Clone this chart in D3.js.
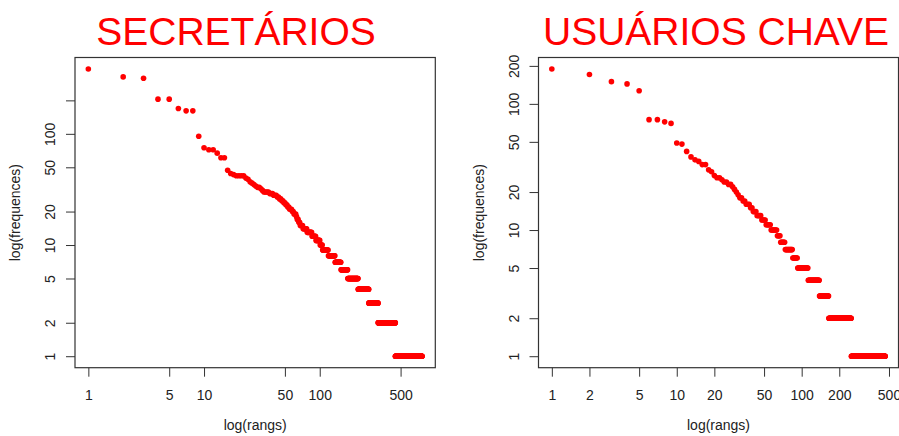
<!DOCTYPE html>
<html>
<head>
<meta charset="utf-8">
<script src="https://cdn.jsdelivr.net/npm/d3@7"></script>
<style>
  body { margin: 0; background: #fff; }
  text { font-family: "Liberation Sans", Arial, sans-serif; }
</style>
</head>
<body>
<div id="chart"></div>
<script>
// word frequency -> how many words have that frequency (ranks follow in order)
var secFreq  = [383, 325, 316, 205, 169, 161, 95, 75, 72, 67, 61, 47, 44, 43, 42, 40, 39, 37, 36, 35, 34, 33, 32, 31,
                30, 29, 28, 27, 26, 25, 24, 23, 22, 21, 20, 19, 18, 17, 16, 15, 14, 13, 12, 11, 10, 9, 8, 7, 6, 5, 4, 3, 2, 1];
var secCount = [1, 1, 1, 2, 1, 2, 1, 1, 2, 1, 2, 1, 1, 1, 4, 1, 1, 1, 1, 1, 1, 2, 1, 1,
                4, 3, 3, 2, 2, 2, 2, 2, 2, 3, 2, 3, 1, 2, 2, 4, 6, 8, 7, 8, 5, 13, 17, 17, 22, 40, 51, 54, 131, 315];

var keyFreq  = [189, 171, 150, 144, 127, 75, 72, 70, 49, 48, 42, 38, 36, 35, 33, 30, 29, 27, 26, 25, 24, 23, 22, 21,
                20, 19, 18, 17, 16, 15, 14, 13, 12, 11, 10, 9, 8, 7, 6, 5, 4, 3, 2, 1];
var keyCount = [1, 1, 1, 1, 1, 2, 1, 1, 1, 1, 1, 1, 1, 1, 2, 1, 1, 1, 2, 1, 2, 2, 1, 1,
                1, 1, 2, 2, 3, 2, 3, 4, 4, 5, 7, 4, 6, 11, 8, 20, 26, 26, 85, 217];

var secXTicks = [1, 5, 10, 50, 100, 500];
var secYTicks = [1, 2, 5, 10, 20, 50, 100, 200];
var secYLabels = [1, 2, 5, 10, 20, 50, 100];
var keyXTicks = [1, 2, 5, 10, 20, 50, 100, 200, 500];
var keyYTicks = [1, 2, 5, 10, 20, 50, 100, 200];

var width = 899, height = 436;

var svg = d3.select("#chart").append("svg")
    .attr("width", width)
    .attr("height", height);

function toRanks(freq, count) {
  var pts = [], r = 1;
  freq.forEach(function(f, i) {
    for (var k = 0; k < count[i]; k++) pts.push({rank: r++, freq: f});
  });
  return pts;
}

// R style axis range: 4% padding each side, in log space
function logDomain(lo, hi) {
  var a = Math.log10(lo), b = Math.log10(hi), p = (b - a) * 0.04;
  return [Math.pow(10, a - p), Math.pow(10, b + p)];
}

function panel(o) {
  var pts = toRanks(o.freq, o.count);

  var x = d3.scaleLog()
      .domain(logDomain(1, pts.length))
      .range([o.left, o.right]);
  var y = d3.scaleLog()
      .domain(logDomain(1, d3.max(pts, function(d) { return d.freq; })))
      .range([o.bottom, o.top]);

  var g = svg.append("g");

  g.append("text")
      .attr("x", o.titleX)
      .attr("y", 45)
      .attr("text-anchor", "middle")
      .attr("fill", "#ff0000")
      .style("font-size", "39px")
      .text(o.title);

  var xAxis = g.append("g")
      .attr("transform", "translate(0," + o.bottom + ")")
      .call(d3.axisBottom(x)
          .tickValues(o.xTicks)
          .tickFormat(d3.format("d"))
          .tickSize(9)
          .tickPadding(13));

  var yAxis = g.append("g")
      .attr("transform", "translate(" + o.left + ",0)")
      .call(d3.axisLeft(y)
          .tickValues(o.yTicks)
          .tickFormat(function(d) { return o.yLabels.indexOf(d) >= 0 ? d : ""; })
          .tickSize(9));

  yAxis.selectAll(".tick text")
      .attr("x", null)
      .attr("dy", null)
      .attr("text-anchor", "middle")
      .attr("transform", "translate(-20,0) rotate(-90)");

  [xAxis, yAxis].forEach(function(a) {
    a.select(".domain").remove();
    a.selectAll(".tick line").attr("stroke", "#333");
    a.selectAll(".tick text")
        .attr("fill", "#222")
        .style("font-size", "14px")
        .style("font-family", "'Liberation Sans', Arial, sans-serif");
  });

  g.append("rect")
      .attr("x", o.left)
      .attr("y", o.top)
      .attr("width", o.right - o.left)
      .attr("height", o.bottom - o.top)
      .attr("fill", "none")
      .attr("stroke", "#333")
      .attr("stroke-width", 1.2);

  g.append("g").selectAll("circle")
    .data(pts)
    .enter().append("circle")
      .attr("cx", function(d) { return x(d.rank); })
      .attr("cy", function(d) { return y(d.freq); })
      .attr("r", 2.8)
      .attr("fill", "#ff0000");

  g.append("text")
      .attr("x", (o.left + o.right) / 2)
      .attr("y", 430)
      .attr("text-anchor", "middle")
      .attr("fill", "#222")
      .style("font-size", "14px")
      .text("log(rangs)");

  g.append("text")
      .attr("transform", "translate(" + (o.left - 55) + "," + ((o.top + o.bottom) / 2) + ") rotate(-90)")
      .attr("text-anchor", "middle")
      .attr("fill", "#222")
      .style("font-size", "14px")
      .text("log(frequences)");
}

panel({
  title: "SECRETÁRIOS", titleX: 236,
  freq: secFreq, count: secCount,
  xTicks: secXTicks, yTicks: secYTicks, yLabels: secYLabels,
  left: 75, right: 435.3, top: 57.5, bottom: 367.7
});

panel({
  title: "USUÁRIOS CHAVE", titleX: 716,
  freq: keyFreq, count: keyCount,
  xTicks: keyXTicks, yTicks: keyYTicks, yLabels: keyYTicks,
  left: 538.5, right: 898.5, top: 57.5, bottom: 367.7
});
</script>
</body>
</html>
